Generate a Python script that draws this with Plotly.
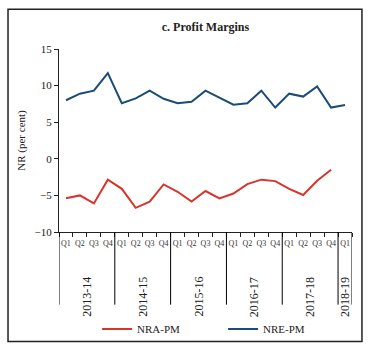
import plotly.graph_objects as go

years = ["2013-14", "2014-15", "2015-16", "2016-17", "2017-18", "2018-19"]
quarters_per_year = [4, 4, 4, 4, 4, 1]
quarter_names = ["Q1", "Q2", "Q3", "Q4"]

nra_pm = [-5.4, -5.0, -6.1, -2.85, -4.1, -6.7, -5.85, -3.5, -4.5, -5.85,
          -4.4, -5.4, -4.75, -3.45, -2.85, -3.05, -4.1, -4.95, -3.0, -1.5]
nre_pm = [8.0, 8.9, 9.3, 11.7, 7.6, 8.25, 9.3, 8.2, 7.6, 7.8,
          9.3, 8.4, 7.4, 7.6, 9.3, 7.0, 8.9, 8.5, 9.9, 7.0, 7.35]

tick_labels = []
for n in quarters_per_year:
    tick_labels += quarter_names[:n]
n_q = len(tick_labels)
centers = [i + 0.5 for i in range(n_q)]

RED = "#D8352A"
BLUE = "#1B4B78"
FONT = "Liberation Serif"

fig = go.Figure()
fig.add_trace(go.Scatter(x=centers[:len(nra_pm)], y=nra_pm, mode="lines",
                         name="NRA-PM", line=dict(color=RED, width=2)))
fig.add_trace(go.Scatter(x=centers[:len(nre_pm)], y=nre_pm, mode="lines",
                         name="NRE-PM", line=dict(color=BLUE, width=2)))

# year separators and labels
bounds = [0]
for n in quarters_per_year:
    bounds.append(bounds[-1] + n)
for b in bounds:
    fig.add_shape(type="line", xref="x", yref="paper", x0=b, x1=b, y0=0, y1=-0.397,
                  line=dict(color="black", width=1))
for k, yr in enumerate(years):
    fig.add_annotation(x=(bounds[k] + bounds[k + 1]) / 2, y=-0.355, xref="x", yref="paper",
                       text=yr, textangle=-90, showarrow=False,
                       xanchor="center", yanchor="middle",
                       font=dict(family=FONT, size=12, color="#222"))

# outer frame
fig.add_shape(type="rect", xref="paper", yref="paper",
              x0=-0.174, x1=1.034, y0=-0.598, y1=1.217,
              line=dict(color="#222", width=1.5))

fig.update_layout(
    width=370, height=354,
    margin=dict(l=59, r=18, t=49, b=121),
    paper_bgcolor="white", plot_bgcolor="white",
    font=dict(family=FONT, size=11, color="#222"),
    title=dict(text="<b>c. Profit Margins</b>", x=0.5, xref="paper", xanchor="center",
               y=1 - 27 / 354, yanchor="middle", font=dict(family=FONT, size=12, color="#222")),
    showlegend=True,
    legend=dict(orientation="h", x=0.13, xanchor="left", y=-0.522, yanchor="middle",
                entrywidth=81, entrywidthmode="pixels",
                font=dict(family=FONT, size=11, color="#222"), bgcolor="rgba(0,0,0,0)"),
)
fig.update_xaxes(range=[0, n_q], showline=True, linecolor="#222", linewidth=1,
                 tickmode="array", tickvals=centers, ticktext=tick_labels,
                 ticks="outside", ticklen=3, tickcolor="rgba(0,0,0,0)",
                 tickfont=dict(family=FONT, size=8, color="#333"), tickangle=0,
                 showgrid=False, zeroline=False, fixedrange=True,
                 minor=dict(tickmode="array", tickvals=list(range(n_q + 1)),
                            ticks="outside", ticklen=4, tickcolor="#222", showgrid=False))
fig.update_yaxes(range=[-10, 15], dtick=5, showline=True, linecolor="#222", linewidth=1,
                 ticks="outside", ticklen=4, tickcolor="#222", showgrid=False, zeroline=False,
                 tickfont=dict(family=FONT, size=11, color="#222"),
                 title=dict(text="NR (per cent)", font=dict(family=FONT, size=11, color="#222"),
                            standoff=6))

fig.write_html("out.html")
